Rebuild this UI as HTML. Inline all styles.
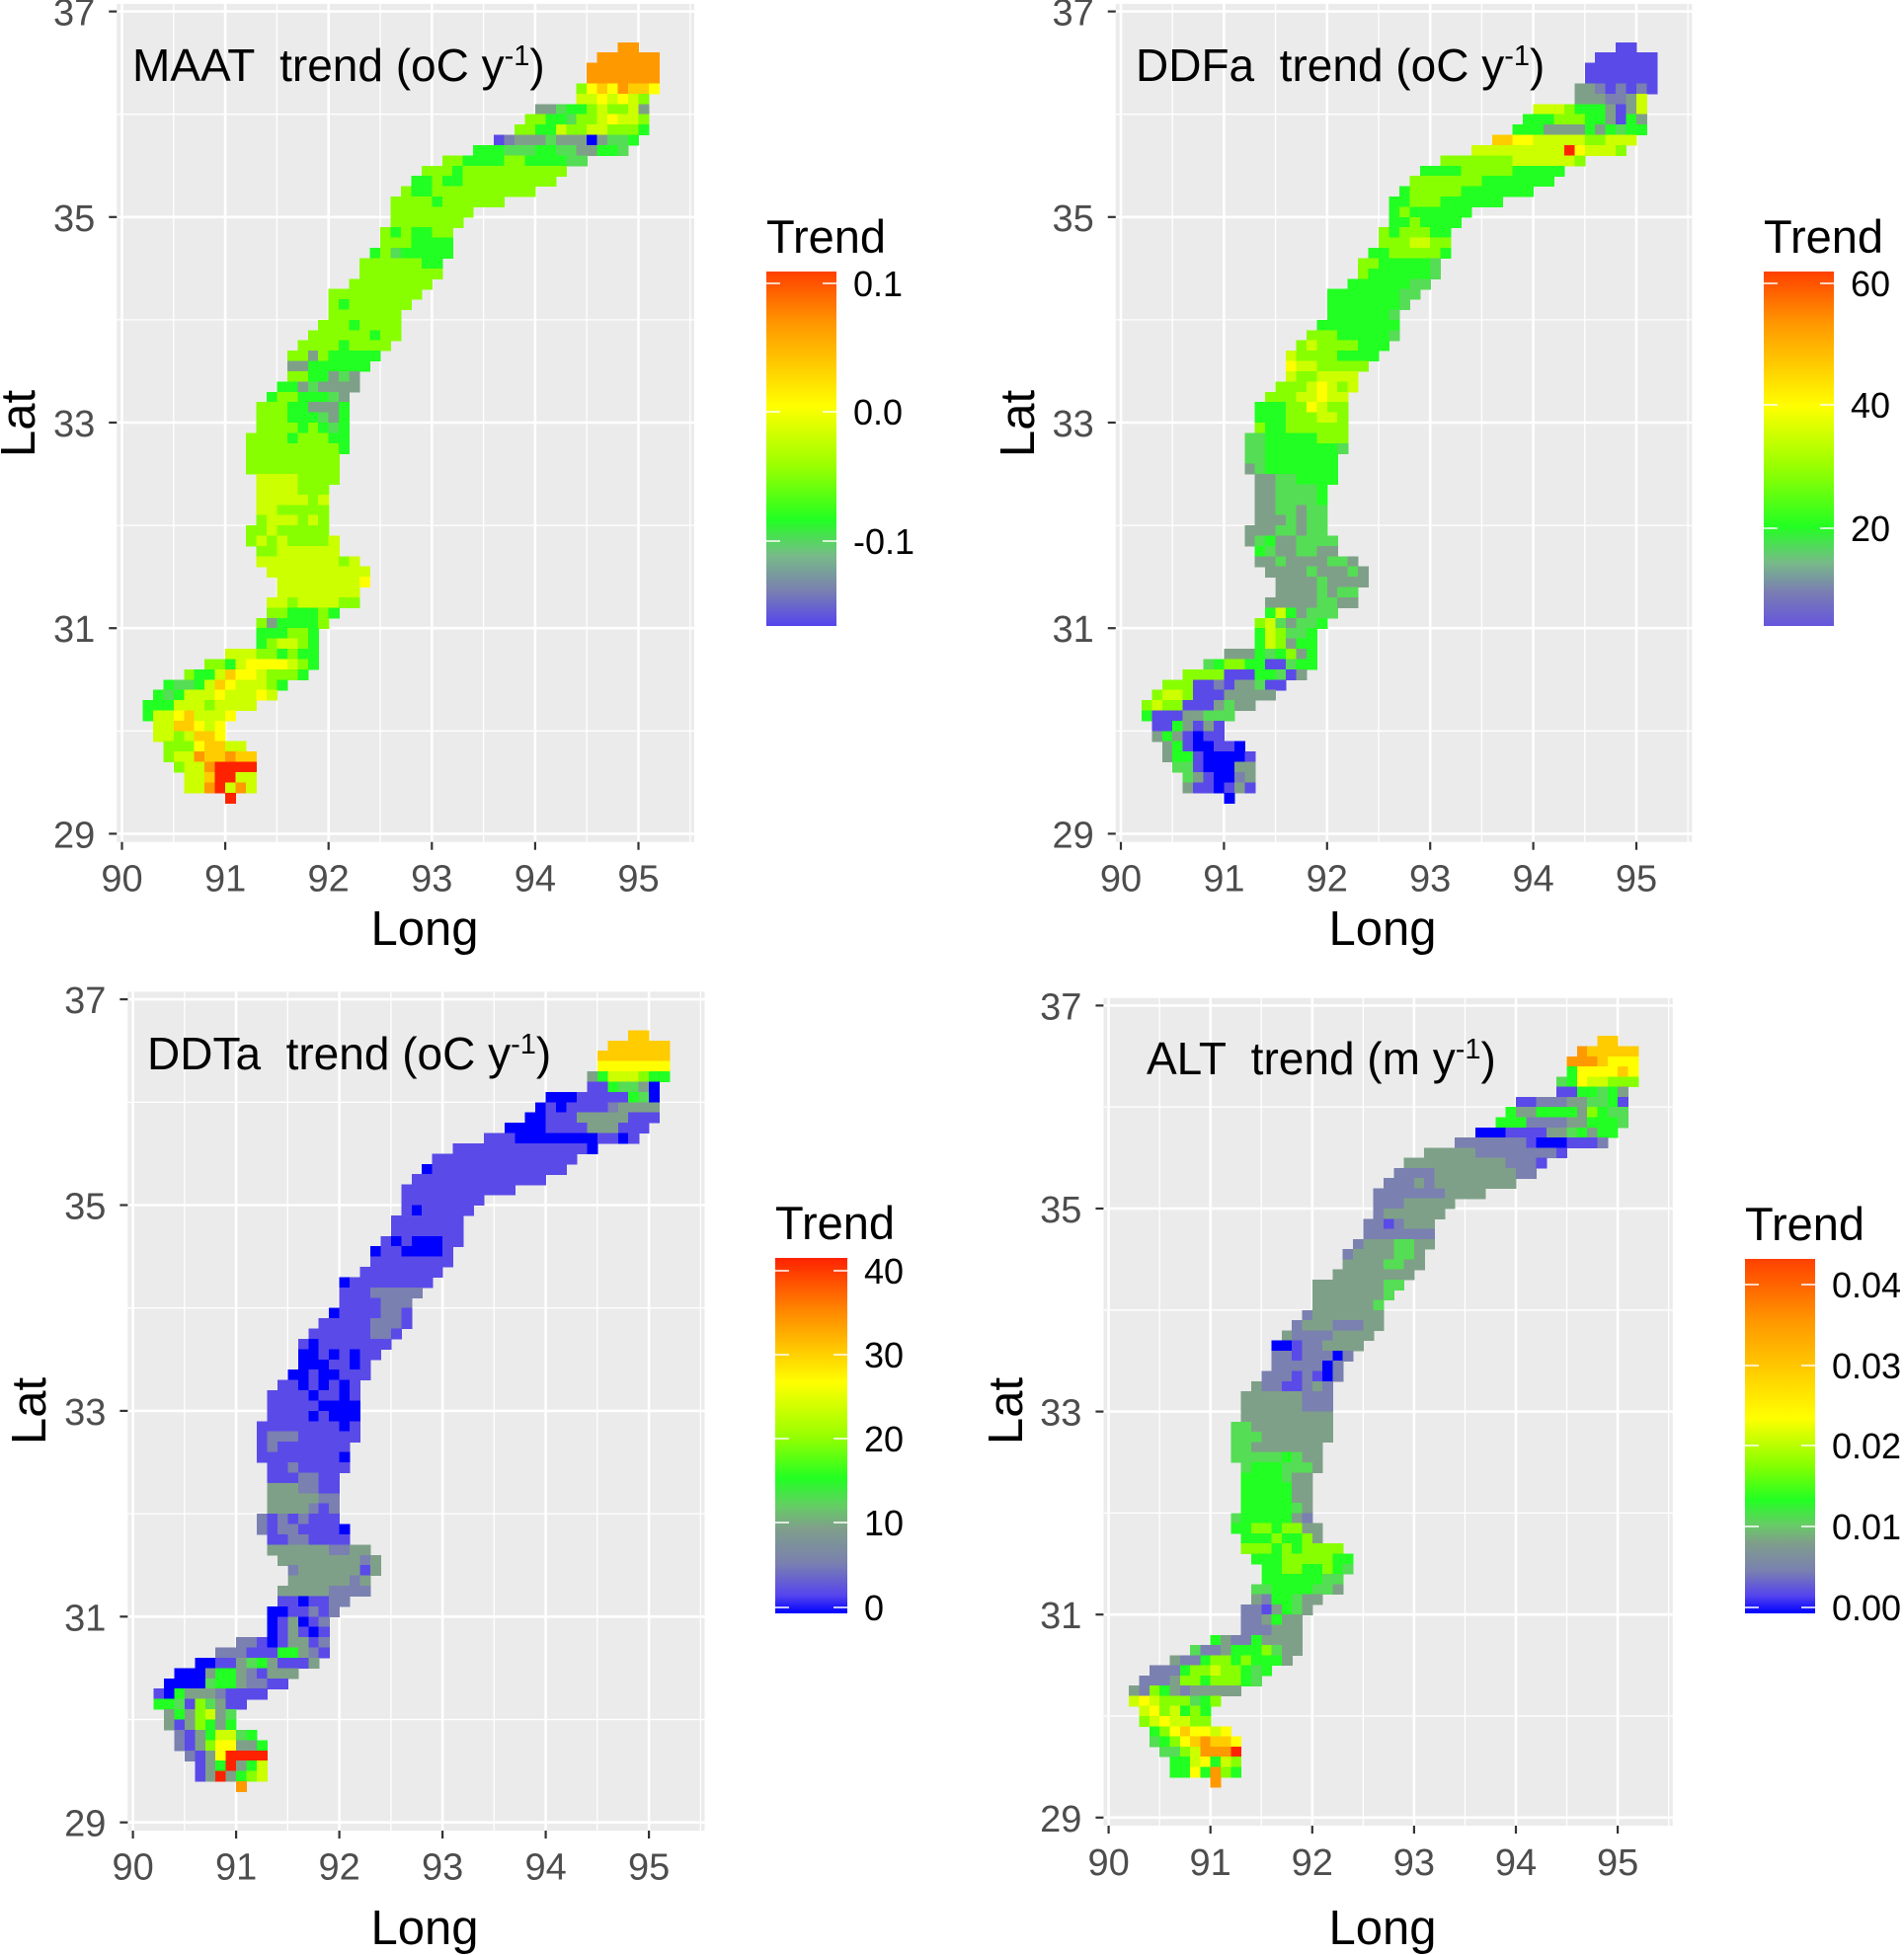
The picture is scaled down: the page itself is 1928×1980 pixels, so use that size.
<!DOCTYPE html>
<html><head><meta charset="utf-8"><style>
html,body{margin:0;padding:0;background:#fff}
svg{display:block}
text{font-family:"Liberation Sans",Arial,sans-serif;white-space:pre}
</style></head><body>
<svg id="fig" width="1928" height="1980" viewBox="0 0 1928 1980" xmlns="http://www.w3.org/2000/svg">
<defs>
<linearGradient id="g1" x1="0" y1="0" x2="0" y2="1"><stop offset="0" stop-color="#ff4000"/><stop offset="0.15" stop-color="#ff9900"/><stop offset="0.38" stop-color="#ffff00"/><stop offset="0.55" stop-color="#99ff00"/><stop offset="0.7" stop-color="#22ff22"/><stop offset="0.8" stop-color="#77bb88"/><stop offset="0.9" stop-color="#7a80b0"/><stop offset="1" stop-color="#5544ee"/></linearGradient>
<linearGradient id="g2" x1="0" y1="0" x2="0" y2="1"><stop offset="0" stop-color="#ff4000"/><stop offset="0.15" stop-color="#ff9900"/><stop offset="0.38" stop-color="#ffff00"/><stop offset="0.55" stop-color="#99ff00"/><stop offset="0.72" stop-color="#22ff22"/><stop offset="0.82" stop-color="#77bb88"/><stop offset="0.9" stop-color="#7a80b0"/><stop offset="1" stop-color="#6655dd"/></linearGradient>
<linearGradient id="g3" x1="0" y1="0" x2="0" y2="1"><stop offset="0" stop-color="#ff2200"/><stop offset="0.15" stop-color="#ff8800"/><stop offset="0.35" stop-color="#ffff00"/><stop offset="0.5" stop-color="#99ff00"/><stop offset="0.62" stop-color="#22ff22"/><stop offset="0.7" stop-color="#66cc66"/><stop offset="0.76" stop-color="#7f9f8a"/><stop offset="0.86" stop-color="#7a80b0"/><stop offset="0.95" stop-color="#5544ee"/><stop offset="1" stop-color="#0000ff"/></linearGradient>
<linearGradient id="g4" x1="0" y1="0" x2="0" y2="1"><stop offset="0" stop-color="#ff4000"/><stop offset="0.18" stop-color="#ff9900"/><stop offset="0.45" stop-color="#ffff00"/><stop offset="0.58" stop-color="#88ff00"/><stop offset="0.68" stop-color="#22ff22"/><stop offset="0.75" stop-color="#66cc66"/><stop offset="0.8" stop-color="#7f9f8a"/><stop offset="0.88" stop-color="#7a80b0"/><stop offset="0.95" stop-color="#5544ee"/><stop offset="1" stop-color="#0000ff"/></linearGradient>
</defs>
</svg>
<script>
// grid rows: top latitude of first row and left longitude of each row (0.1 degree cells)
const rowTopLat = 36.7;
const rowStartLon = [94.8,94.6,94.5,94.5,94.4,94.4,94.0,93.9,93.8,93.6,93.4,93.1,92.9,92.8,92.7,92.6,92.6,92.6,92.5,92.5,92.4,92.3,92.3,92.2,92.0,92.0,92.0,91.9,91.8,91.7,91.6,91.6,91.6,91.5,91.4,91.3,91.3,91.3,91.2,91.2,91.2,91.2,91.3,91.3,91.3,91.3,91.3,91.2,91.2,91.3,91.3,91.4,91.5,91.5,91.4,91.4,91.3,91.3,91.3,91.0,90.8,90.6,90.4,90.3,90.2,90.2,90.3,90.3,90.4,90.4,90.5,90.6,90.6,91.0];
// trend level per cell (0..B, 12-step colour scale)
const maatRows = ["AA","AAAAAA","AAAAAAA","AAAAAAA","6898A998","7787876","33455676673","665546678776","6655766776665","12333433303445","555444554433554","66555566555544","66656666666666","55655666666666","6556666666666","66665666666","66666666","6666666","6565566","6665555","56455555","66666655","66666666","66666666","666666666","65666666","6666666","66656666","666666566","666656666","663655555","33555555","6655343","55343333","56655543","666553335","666555435","666656545","6666566655","6666666665","666666666","666666666","77776666","7777666","7777767","7766666","6777676","66766666","676766667","66777777","7777777767","7777777777","777777778","77777777","776777766","6655565","6355556","555665","567765","777665655","66578888765","655798876665","544579877765","545777877787","55577767777","577897778","7799878","7767998","66689977","677A99A99","677ABBBB","779BB77","77AB7A7","B"];
const ddfaRows = ["11","111111","1111111","1111111","33212121","3332237","77765553137","555666553153","5553333535455","99887777766777","777777777B87776","66666667777776","55556666655555","66666665555555","5666665555555","55666555555","56555555","5565555","6566655","6667766","55666665","66555554","65555554","55555544","555555544","55555554","5555554","55555555","666555554","676666555","766665555","87766666","7667777","66678767","66677877","555668766","555666776","655666666","4455555666","4455555554","445555555","345555555","33445555","3344445","3344445","3344344","3334344","33344344","345334444","54334433","3343333443","3333433343","333343333","33334344","333334433","5753444","6743445","576445","576355","333545635","45665511455","666611155413","666112133411","677611133333","67661113433","511133444","1153131","3531011","35100110","355100001","44100033","4310023","3110131","0"];
const ddtaRows = ["99","999999","9999999","8888888","35777655","1154430","00011111540","010111123333","0011133333111","00001111333111","111000000001101","11111111111110","11111111111111","01111111111111","1111111111111","11111111111","11111111","1011111","1111111","1111111","10100011","01100001","11111111","11111111","011111111","11122222","1111222","01111221","111112221","111111221","101111111","00101011","0001101","00100111","11010101","111101101","111110000","111101000","1111111101","1222111111","121111111","111111110","11211111","1112211","3332211","3333322","3333212","21212111","212211110","11221111","3333332233","3333333323","233333313","33333323","333332222","1101122","0011212","013012","013101","221013312","22211155321","001134531113","000355321333","000045532211","10533321111","554164311","3536734","3136535","21357745","213688335","2138BBBB","135B357","13B3567","A"];
const altRows = ["99","A99999","AAA9888","5888898","45877666","1155453","11222334451","533555536544","5552222335554","00011113345355","222222210001112","33333222222221","33333333332221","22223333333322","2223233333333","22222223333","22233333","2333333","2212333","2222222","23334433","23333443","33334433","33333333","333333344","33333334","3333334","23333333","233322233","322223333","001223333","22122202","2222202","22212102","32211232","333333222","333333222","333333333","4433333333","4443333333","443333333","444445433","45554443","5555433","5555533","5555533","5555543","45555532","556656633","55565563","6665656666","5556666655","556655654","55555544","445555443","3255433","2213543","223533","222333","532253333","42235556433","322566565553","222566766545","222366566654","32653233333","787666456","7867565","6787766","56898878","45689A998","4467AAAB","5578576","5585A65","A"];
// axis tick labels
const lonTicks = [90,91,92,93,94,95];
const latTicks = [29,31,33,35,37];
const maatLegend = ["0.1","0.0","-0.1"];
const ddfaLegend = ["60","40","20"];
const ddtaLegend = ["40","30","20","10","0"];
const altLegend = ["0.04","0.03","0.02","0.01","0.00"];

const levelChars = "0123456789AB";
const levelColors = ["#0000ff","#5a4ae8","#7a80b0","#7fa088","#55dd55","#22ff22","#88ff00","#ccff00","#ffff00","#ffcc00","#ff9900","#ff2200"];

const NS="http://www.w3.org/2000/svg";
const svg=document.getElementById('fig');
function mk(tag,attrs,parent){const e=document.createElementNS(NS,tag);for(const k in attrs)e.setAttribute(k,attrs[k]);(parent||svg).appendChild(e);return e;}

const panels=[
 {key:"maat",rows:maatRows,x0:123.5,kx:104.6,y37:11.6,ky:104.1,title:["MAAT  trend (oC y","-1",")"],tx:134,ty:82,grad:"g1",bar:[776,275,847,634],lab:maatLegend,labY:[287,417,548],labX:864,longX:430,longY:957,latX:18,latY:429},
 {key:"ddfa",rows:ddfaRows,x0:1135,kx:104.4,y37:11.6,ky:104.1,title:["DDFa  trend (oC y","-1",")"],tx:1150,ty:82,grad:"g2",bar:[1786,275,1857,634],lab:ddfaLegend,labY:[287,410,535],labX:1874,longX:1400,longY:957,latX:1030,latY:429},
 {key:"ddta",rows:ddtaRows,x0:134.6,kx:104.5,y37:1012.1,ky:104.2,title:["DDTa  trend (oC y","-1",")"],tx:149,ty:1083,grad:"g3",bar:[785,1274,858,1634],lab:ddtaLegend,labY:[1287,1372,1457,1542,1628],labX:875,longX:430,longY:1969,latX:29,latY:1429},
 {key:"alt",rows:altRows,x0:1122.6,kx:103.1,y37:1018.4,ky:102.8,title:["ALT  trend (m y","-1",")"],tx:1161,ty:1088,grad:"g4",bar:[1767,1275,1838,1634],lab:altLegend,labY:[1301,1383,1464,1546,1628],labX:1855,longX:1400,longY:1969,latX:1018,latY:1429}
];

panels.forEach(p=>{
 const X=lon=>p.x0+(lon-90)*p.kx;
 const Y=lat=>p.y37+(37-lat)*p.ky;
 const g=mk('g',{});
 
 
 const bx=X(89.95),by=Y(37.074),bw=X(95.54)-bx,bh=Y(28.92)-by;
 const bg=mk('rect',{x:bx,y:by,width:bw,height:bh,fill:'#ebebeb'},g);
 
 
 for(let l=29;l<=37;l++){
  const ln=mk('line',{x1:bx,x2:bx+bw,y1:Y(l),y2:Y(l),stroke:'#fff','stroke-width':l%2?2.6:1.3},g);
  
  
 }
 for(let k=0;k<=11;k++){
  const lon=90+k*0.5;
  const ln=mk('line',{x1:X(lon),x2:X(lon),y1:by,y2:by+bh,stroke:'#fff','stroke-width':k%2?1.3:2.6},g);
  
  
 }
 const cells=mk('g',{'shape-rendering':'crispEdges'},g);
 
 
 p.rows.forEach((s,i)=>{
  const latTop=rowTopLat-0.1*i;
  for(let j=0;j<s.length;j++){
   const lon=rowStartLon[i]+0.1*j;
   const x=X(lon),y=Y(latTop);
   const r=mk('rect',{x:x.toFixed(2),y:y.toFixed(2),width:(0.1*p.kx+0.6).toFixed(2),height:(0.1*p.ky+0.6).toFixed(2),fill:levelColors[levelChars.indexOf(s[j])]},cells);
   
   
  }
 });
 lonTicks.forEach(t=>{
  const tk=mk('line',{x1:X(t),x2:X(t),y1:by+bh,y2:by+bh+8,stroke:'#333','stroke-width':2.2},g);
  
  
  const tl=mk('text',{x:X(t),y:Y(29)+58,'text-anchor':'middle','font-size':38,fill:'#4d4d4d'},g);
  tl.textContent=t;
  
  
 });
 latTicks.forEach(t=>{
  const tk=mk('line',{x1:bx-8,x2:bx,y1:Y(t),y2:Y(t),stroke:'#333','stroke-width':2.2},g);
  
  
  const tl=mk('text',{x:bx-22,y:Y(t)+14,'text-anchor':'end','font-size':38,fill:'#4d4d4d'},g);
  tl.textContent=t;
  
  
 });
 const xt=mk('text',{x:p.longX,y:p.longY,'text-anchor':'middle','font-size':49,fill:'#000'},g);
 xt.textContent='Long';
 
 
 const yt=mk('text',{x:p.latX+17,y:p.latY,'text-anchor':'middle','font-size':49,fill:'#000',transform:`rotate(-90 ${p.latX+17} ${p.latY})`},g);
 yt.textContent='Lat';
 
 
 const tt=mk('text',{x:p.tx,y:p.ty,'font-size':46,fill:'#000'},g);
 const s1=mk('tspan',{},tt);s1.textContent=p.title[0];
 const s2=mk('tspan',{dy:-16,'font-size':29},tt);s2.textContent=p.title[1];
 const s3=mk('tspan',{dy:16},tt);s3.textContent=p.title[2];
 
 
 const lg=mk('g',{},g);
 
 
 const [a,b,c,d]=p.bar;
 const lt=mk('text',{x:a,y:b-19,'font-size':47,fill:'#000'},lg);
 lt.textContent='Trend';
 
 
 const cb=mk('rect',{x:a,y:b,width:c-a,height:d-b,fill:`url(#${p.grad})`},lg);
 
 
 p.lab.forEach((s,i)=>{
  const y=p.labY[i];
  mk('line',{x1:a,x2:a+14,y1:y,y2:y,stroke:'#fff','stroke-width':1.5},lg);
  mk('line',{x1:c-14,x2:c,y1:y,y2:y,stroke:'#fff','stroke-width':1.5},lg);
  const t=mk('text',{x:p.labX,y:y+13,'font-size':36,fill:'#000'},lg);
  t.textContent=s;
  
  
 });
});
</script>
</body></html>
